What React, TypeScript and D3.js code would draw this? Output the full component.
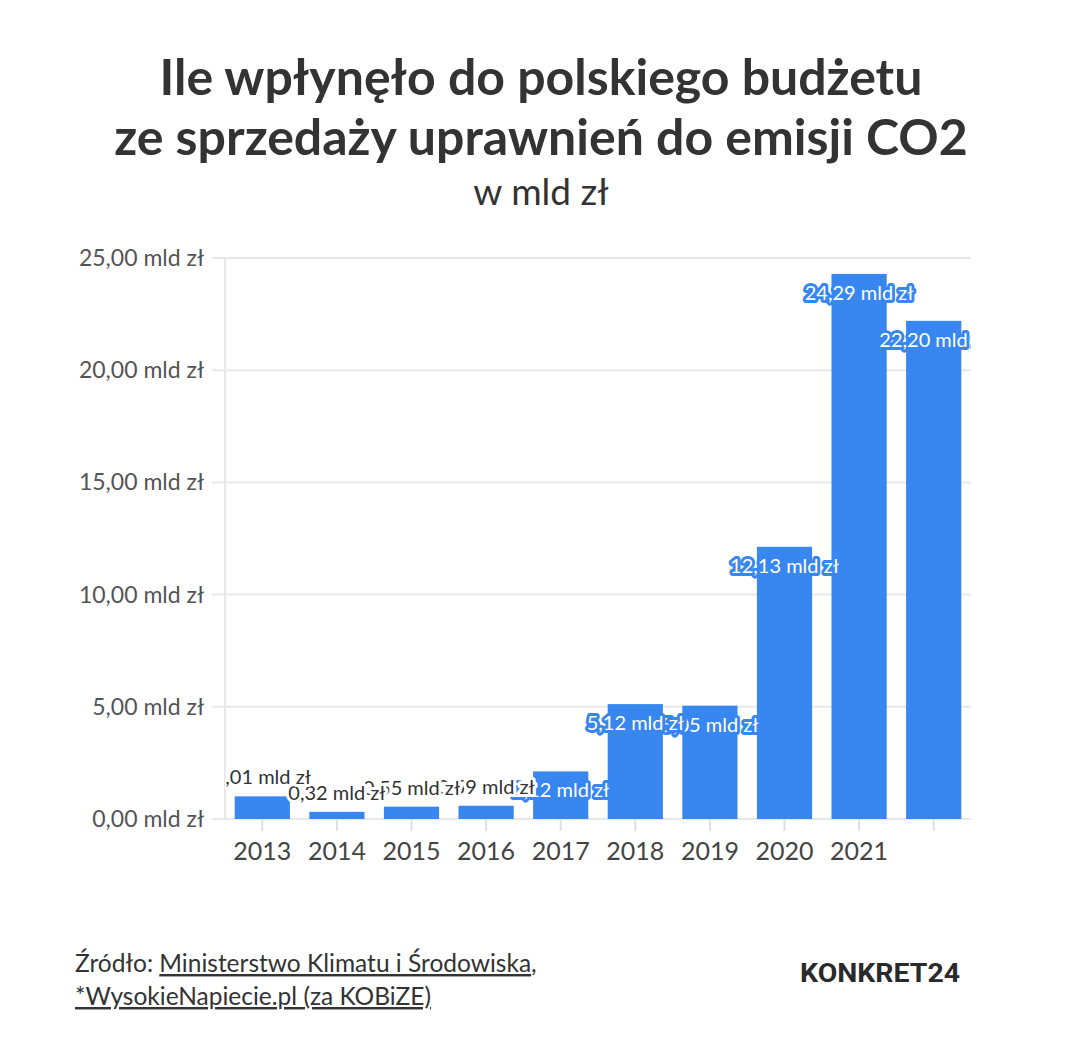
import React from "react";
import * as d3 from "d3";

const years = ["2013", "2014", "2015", "2016", "2017", "2018", "2019", "2020", "2021", "2022"];
const xTickLabels = ["2013", "2014", "2015", "2016", "2017", "2018", "2019", "2020", "2021", ""];
const values = [1.01, 0.32, 0.55, 0.59, 2.12, 5.12, 5.05, 12.13, 24.29, 22.2];
const yTicks = [0, 5, 10, 15, 20, 25];

const W = 1080;
const H = 1061;
const FONT = "'Source Sans Pro', Lato, 'Noto Sans', sans-serif";
const BLUE = "#3886f0";

const fmt = (v: number) => v.toFixed(2).replace(".", ",") + " mld zł";

export default function App() {
  const left = 225;
  const right = 971;
  const top = 258;
  const bottom = 819;

  const x = d3.scaleBand<string>().domain(years).range([left, right]).paddingInner(0.26).paddingOuter(0.13);
  const y = d3.scaleLinear().domain([0, 25]).range([bottom, top]);

  const labelOrder = years.map((_, i) => i).reverse();

  return (
    <svg width={W} height={H} style={{ position: "absolute", left: 0, top: 0, background: "#fff" }} fontFamily={FONT}>
      <rect width={W} height={H} fill="#fff" />
      <defs>
        <clipPath id="plotclip">
          <rect x={left} y={0} width={right - left} height={H} />
        </clipPath>
      </defs>

      {/* Titles */}
      <text x={541} y={95} textAnchor="middle" fontSize={50} fontWeight={700} fill="#333">
        Ile wpłynęło do polskiego budżetu
      </text>
      <text x={541} y={155} textAnchor="middle" fontSize={50} fontWeight={700} fill="#333">
        ze sprzedaży uprawnień do emisji CO2
      </text>
      <text x={541} y={205} textAnchor="middle" fontSize={37} fill="#333">
        w mld zł
      </text>

      {/* Gridlines and y axis */}
      {yTicks.map((t) => (
        <g key={t}>
          <line x1={212} x2={right} y1={y(t)} y2={y(t)} stroke="#e8e8e8" strokeWidth={2} />
          <text x={204} y={y(t) + 8} textAnchor="end" fontSize={23} fill="#555">
            {t.toFixed(2).replace(".", ",") + " mld zł"}
          </text>
        </g>
      ))}
      <line x1={left} x2={left} y1={top} y2={bottom} stroke="#e8e8e8" strokeWidth={2} />

      {/* x ticks */}
      {years.map((yr, i) => {
        const cx = (x(yr) as number) + x.bandwidth() / 2;
        return (
          <g key={yr}>
            <line x1={cx} x2={cx} y1={bottom} y2={bottom + 12} stroke="#e0e0e0" strokeWidth={2} />
            <text x={cx} y={860} textAnchor="middle" fontSize={25} fill="#444">
              {xTickLabels[i]}
            </text>
          </g>
        );
      })}

      {/* Bars */}
      {years.map((yr, i) => (
        <rect
          key={yr}
          x={x(yr) as number}
          y={y(values[i])}
          width={x.bandwidth()}
          height={bottom - y(values[i])}
          fill={BLUE}
        />
      ))}

      {/* Data labels */}
      <g clipPath="url(#plotclip)">
        {labelOrder.map((i) => {
          const yr = years[i];
          const v = values[i];
          const cx = (x(yr) as number) + x.bandwidth() / 2;
          const inside = y(0) - y(v) > 40;
          const ly = inside ? y(v) + 26 : y(v) - 12;
          const halo = inside ? BLUE : "#fff";
          const fill = inside ? "#fff" : "#333";
          return (
            <g key={yr}>
              <text
                x={cx}
                y={ly}
                textAnchor="middle"
                fontSize={20}
                fill={halo}
                stroke={halo}
                strokeWidth={6}
                strokeLinejoin="round"
              >
                {fmt(v)}
              </text>
              <text x={cx} y={ly} textAnchor="middle" fontSize={20} fill={fill}>
                {fmt(v)}
              </text>
            </g>
          );
        })}
      </g>

      {/* Source */}
      <text x={75} y={972} fontSize={24.5} fill="#333">
        Źródło:{" "}
        <tspan textDecoration="underline">Ministerstwo Klimatu i Środowiska</tspan>,
      </text>
      <text x={75} y={1005} fontSize={24.5} fill="#333">
        <tspan textDecoration="underline">*WysokieNapiecie.pl (za KOBiZE)</tspan>
      </text>

      {/* Logo */}
      <text
        x={800}
        y={982}
        fontSize={26}
        fontWeight={700}
        fill="#2a2a2a"
        fontFamily="Roboto, sans-serif"
        textLength={160}
        lengthAdjust="spacingAndGlyphs"
      >
        KONKRET24
      </text>
    </svg>
  );
}
